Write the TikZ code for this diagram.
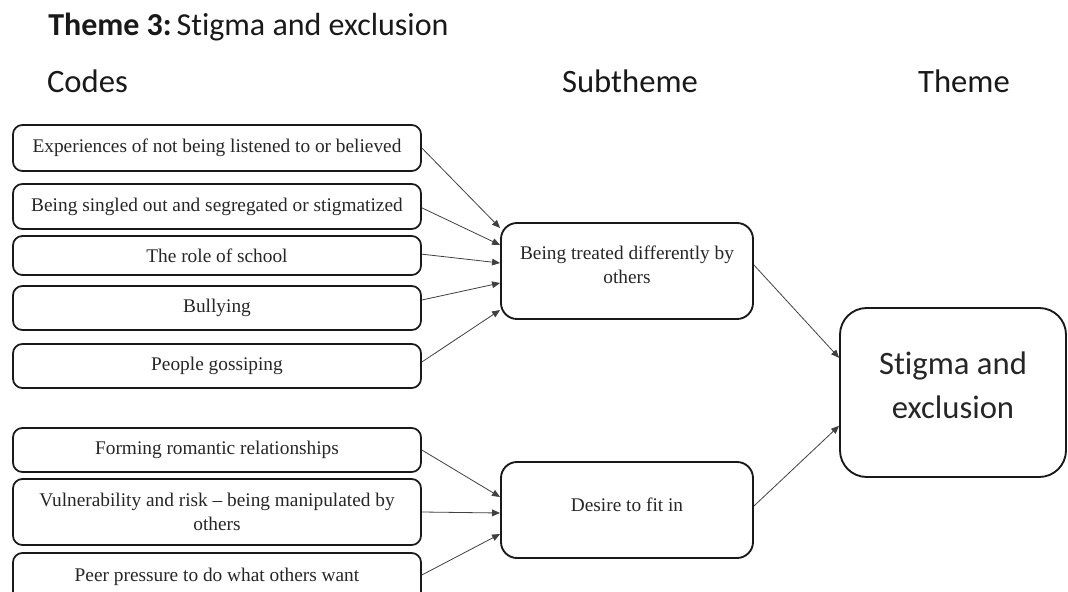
\documentclass[tikz,border=0pt]{standalone}
\usepackage{fontspec}
\setmainfont{Liberation Serif}
\newfontfamily\calibri[Ligatures=NoCommon]{Carlito}
\usetikzlibrary{arrows.meta}
\begin{document}
\begin{tikzpicture}[x=0.75pt,y=-0.75pt,
  serif/.style={font=\fontsize{14.5pt}{18pt}\selectfont, text=black!85},
  codebox/.style={serif, draw=black!90, line width=1.3pt, rounded corners=7pt,
    minimum width=408*0.75pt, inner sep=2pt, align=center},
  subbox/.style={draw=black!90, line width=1.4pt, rounded corners=12pt,
    minimum width=252*0.75pt, minimum height=96*0.75pt},
  themebox/.style={draw=black!90, line width=1.4pt, rounded corners=20pt,
    minimum width=226*0.75pt, minimum height=169*0.75pt},
  subtext/.style={serif, align=center, inner sep=0pt},
  themetext/.style={font=\calibri\fontsize{24.5pt}{33pt}\selectfont, text=black!85,
    align=center, inner sep=0pt},
  head/.style={font=\calibri\fontsize{24.5pt}{29pt}\selectfont, text=black!90, inner sep=0pt},
  arr/.style={draw=black!75, line width=0.6pt, -{Triangle[length=6pt,width=5pt]}}
]
\useasboundingbox (0,0) rectangle (1068,592);
\clip (0,0) rectangle (1068,592);

% headings
\node[head, font=\calibri\fontsize{24pt}{29pt}\selectfont, anchor=base west] (title) at (48,36)
  {\textbf{Theme 3:}\hspace{0.15em}Stigma and exclusion};
\node[head, anchor=base] (hcodes) at (87.5,93) {Codes};
\node[head, anchor=base] (hsub) at (630,93) {Subtheme};
\node[head, anchor=base] (htheme) at (964,93) {Theme};

% codes
\node[codebox, minimum height=46*0.75pt] (c1) at (217,148) {Experiences of not being listened to or believed};
\node[codebox, minimum height=45*0.75pt] (c2) at (217,206.5) {Being singled out and segregated or stigmatized};
\node[codebox, minimum height=39*0.75pt] (c3) at (217,255.5) {The role of school};
\node[codebox, minimum height=44*0.75pt] (c4) at (217,308) {Bullying};
\node[codebox, minimum height=44*0.75pt] (c5) at (217,366) {People gossiping};
\node[codebox, minimum height=44*0.75pt] (c6) at (217,450) {Forming romantic relationships};
\node[codebox, minimum height=66*0.75pt] (c7) at (217,512) {Vulnerability and risk -- being manipulated by\\ others};
\node[codebox, minimum height=48*0.75pt] (c8) at (217,577) {Peer pressure to do what others want};

% subthemes
\node[subbox] (s1) at (627,271) {};
\node[subtext] (s1t) at (627,265) {Being treated differently by\\others};
\node[subbox] (s2) at (627,510) {};
\node[subtext] (s2t) at (627,505) {Desire to fit in};

% theme
\node[themebox] (t) at (953,392.5) {};
\node[themetext] (tt) at (953,385) {Stigma and\\exclusion};

% codes to subthemes
\draw[arr] (c1.east) -- ([yshift=32.25pt]s1.west);
\draw[arr] ([yshift=-1pt]c2.east) -- ([yshift=19.5pt]s1.west);
\draw[arr] ([yshift=1pt]c3.east) -- ([yshift=6pt]s1.west);
\draw[arr] ([yshift=6pt]c4.east) -- ([yshift=-9pt]s1.west);
\draw[arr] ([yshift=3pt]c5.east) -- ([yshift=-29.25pt]s1.west);
\draw[arr] (c6.east) -- ([yshift=9.75pt]s2.west);
\draw[arr] (c7.east) -- ([yshift=-2.25pt]s2.west);
\draw[arr] ([yshift=1.5pt]c8.east) -- ([yshift=-18pt]s2.west);

% subthemes to theme
\draw[arr] ([yshift=4.5pt]s1.east) -- ([yshift=26pt]t.west);
\draw[arr] ([yshift=3pt]s2.east) -- ([yshift=-25pt]t.west);
\end{tikzpicture}
\end{document}
